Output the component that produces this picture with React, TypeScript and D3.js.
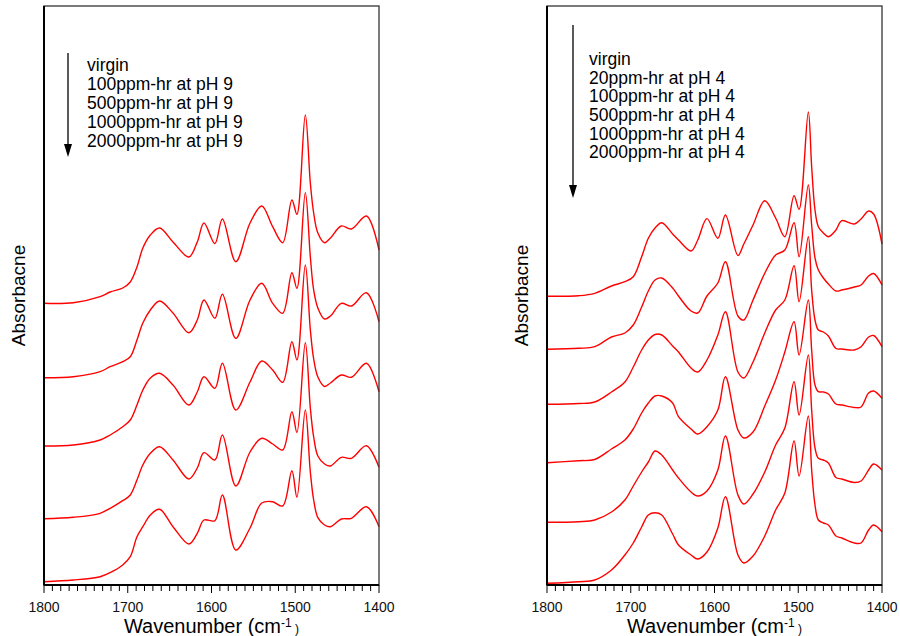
import React from "react";
import * as d3 from "d3";

// wavenumber grid (cm-1) the spectra were read at
const ph9Wavenumbers = [
  1800, 1765, 1733, 1721, 1706, 1697, 1689, 1682, 1673, 1662, 1646, 1627, 1617,
  1609, 1596, 1587, 1571, 1554, 1540, 1527, 1515, 1504, 1498, 1488, 1482, 1478,
  1473, 1465, 1458, 1445, 1433, 1415, 1400,
];

// absorbance (stacked, a.u.)
const ph9Virgin = [
  2.817, 2.823, 2.883, 2.93, 2.97, 3.03, 3.18, 3.37, 3.5, 3.57, 3.43, 3.28, 3.43,
  3.62, 3.415, 3.66, 3.233, 3.62, 3.79, 3.583, 3.423, 3.85, 3.707, 4.7, 4.02, 3.72,
  3.52, 3.423, 3.47, 3.59, 3.56, 3.69, 3.35,
];
const ph9_100 = [
  2.073, 2.083, 2.133, 2.183, 2.233, 2.283, 2.45, 2.62, 2.75, 2.84, 2.72, 2.523,
  2.65, 2.85, 2.667, 2.907, 2.467, 2.85, 3.017, 2.817, 2.717, 3.123, 2.967, 3.923,
  3.283, 2.95, 2.77, 2.66, 2.69, 2.817, 2.79, 2.923, 2.633,
];
const ph9_500 = [
  1.39, 1.4, 1.45, 1.5, 1.583, 1.65, 1.8, 1.95, 2.07, 2.117, 2.0, 1.8, 1.93, 2.083,
  1.967, 2.217, 1.75, 2.03, 2.24, 2.15, 2.027, 2.433, 2.25, 3.2, 2.553, 2.26, 2.08,
  1.985, 2.02, 2.1, 2.077, 2.217, 1.933,
];
const ph9_1000 = [
  0.663, 0.677, 0.717, 0.767, 0.843, 0.9, 1.05, 1.2, 1.317, 1.383, 1.25, 1.06,
  1.17, 1.323, 1.25, 1.5, 0.99, 1.33, 1.467, 1.41, 1.35, 1.733, 1.525, 2.423, 1.77,
  1.48, 1.29, 1.21, 1.19, 1.277, 1.267, 1.393, 1.177,
];
const ph9_2000 = [
  0.033, 0.05, 0.083, 0.123, 0.2, 0.283, 0.483, 0.583, 0.7, 0.757, 0.583, 0.41,
  0.517, 0.65, 0.643, 0.9, 0.35, 0.57, 0.82, 0.833, 0.79, 1.143, 0.877, 1.75, 1.13,
  0.85, 0.674, 0.6, 0.583, 0.66, 0.667, 0.783, 0.583,
];
const ph9Labels = [
  "virgin",
  "100ppm-hr at pH 9",
  "500ppm-hr at pH 9",
  "1000ppm-hr at pH 9",
  "2000ppm-hr at pH 9",
];

const ph4Wavenumbers = [
  1800, 1762, 1743, 1723, 1707, 1697, 1687, 1679, 1671, 1663, 1650, 1643, 1628,
  1620, 1609, 1596, 1587, 1572, 1565, 1554, 1540, 1527, 1516, 1505, 1499, 1488,
  1484, 1480, 1476, 1470, 1464, 1455, 1448, 1433, 1425, 1416, 1410, 1400,
];
const ph4Virgin = [
  2.887, 2.893, 2.917, 2.99, 3.033, 3.083, 3.283, 3.467, 3.57, 3.623, 3.51, 3.45,
  3.34, 3.45, 3.664, 3.467, 3.7, 3.295, 3.41, 3.6, 3.842, 3.67, 3.483, 3.892, 3.757,
  4.73, 4.183, 3.75, 3.583, 3.52, 3.483, 3.55, 3.643, 3.61, 3.66, 3.74, 3.71, 3.41,
];
const ph4_20 = [
  2.357, 2.367, 2.383, 2.48, 2.52, 2.6, 2.78, 2.94, 3.05, 3.07, 2.97, 2.89, 2.74,
  2.72, 2.89, 3.02, 3.233, 2.69, 2.65, 2.85, 3.117, 3.3, 3.35, 3.623, 3.283, 4.0,
  3.6, 3.27, 3.15, 3.07, 3.01, 2.94, 2.95, 2.98, 3.0, 3.09, 3.115, 3.0,
];
const ph4_100 = [
  1.807, 1.815, 1.83, 1.93, 2.03, 2.18, 2.35, 2.45, 2.505, 2.5, 2.39, 2.33, 2.17,
  2.13, 2.25, 2.5, 2.733, 2.13, 2.07, 2.23, 2.52, 2.75, 2.85, 3.193, 2.833, 3.483,
  2.95, 2.65, 2.55, 2.53, 2.49, 2.365, 2.36, 2.35, 2.383, 2.48, 2.495, 2.383,
];
const ph4_500 = [
  1.223, 1.243, 1.255, 1.36, 1.45, 1.56, 1.72, 1.82, 1.89, 1.89, 1.82, 1.683, 1.56,
  1.51, 1.583, 1.75, 2.083, 1.55, 1.47, 1.53, 1.79, 2.05, 2.33, 2.633, 2.3, 2.85,
  2.35, 2.0, 1.933, 1.93, 1.91, 1.81, 1.8, 1.775, 1.78, 1.92, 1.94, 1.867,
];
const ph4_1000 = [
  0.627, 0.633, 0.65, 0.73, 0.85, 0.99, 1.13, 1.23, 1.34, 1.3, 1.15, 1.07, 0.93,
  0.89, 0.94, 1.15, 1.49, 0.9, 0.81, 0.91, 1.13, 1.4, 1.57, 2.033, 1.7, 2.3, 1.75,
  1.37, 1.267, 1.25, 1.22, 1.075, 1.06, 1.025, 1.04, 1.15, 1.21, 1.15,
];
const ph4_2000 = [
  0.017, 0.033, 0.05, 0.15, 0.3, 0.42, 0.58, 0.7, 0.723, 0.7, 0.51, 0.4, 0.3, 0.26,
  0.33, 0.57, 0.883, 0.3, 0.22, 0.29, 0.49, 0.75, 0.92, 1.44, 1.09, 1.69, 1.15, 0.8,
  0.65, 0.62, 0.6, 0.49, 0.47, 0.42, 0.42, 0.55, 0.6, 0.533,
];
const ph4Labels = [
  "virgin",
  "20ppm-hr at pH 4",
  "100ppm-hr at pH 4",
  "500ppm-hr at pH 4",
  "1000ppm-hr at pH 4",
  "2000ppm-hr at pH 4",
];

const xTicks = [1800, 1700, 1600, 1500, 1400];
const yDomain = [0, 5.79];

const FONT = "'Liberation Sans', Arial, Helvetica, sans-serif";
const TOP = 6;
const BOTTOM = 585;

const panels = [
  {
    left: 44, right: 379, wn: ph9Wavenumbers,
    series: [ph9Virgin, ph9_100, ph9_500, ph9_1000, ph9_2000], labels: ph9Labels,
    legendX: 87, legendY: 71, legendStep: 19, arrowX: 68, arrowTop: 53, arrowTip: 157, titleX: 25,
  },
  {
    left: 547, right: 882, wn: ph4Wavenumbers,
    series: [ph4Virgin, ph4_20, ph4_100, ph4_500, ph4_1000, ph4_2000], labels: ph4Labels,
    legendX: 589, legendY: 65, legendStep: 18.65, arrowX: 573, arrowTop: 25, arrowTip: 198, titleX: 528,
  },
];

function Panel({ cfg }: { cfg: any }) {
  const x = d3.scaleLinear().domain([1800, 1400]).range([cfg.left, cfg.right]);
  const y = d3.scaleLinear().domain(yDomain).range([BOTTOM, TOP]);
  const line = d3
    .line<number>()
    .x((d, i) => x(cfg.wn[i]))
    .y((d) => y(d))
    .curve(d3.curveCatmullRom.alpha(0.5));
  const minor = d3.range(1400, 1801, 10);
  const mid = (cfg.left + cfg.right) / 2;

  return (
    <g>
      {cfg.series.map((s: number[], i: number) => (
        <path key={i} d={line(s) || ""} fill="none" stroke="#ff0000" strokeWidth={1.4} />
      ))}
      <rect x={cfg.left} y={TOP} width={cfg.right - cfg.left} height={BOTTOM - TOP}
        fill="none" stroke="#333" strokeWidth={1.3} />
      <line x1={cfg.left} x2={cfg.left} y1={TOP} y2={BOTTOM} stroke="#000" strokeWidth={2} />
      <line x1={cfg.left} x2={cfg.right} y1={BOTTOM} y2={BOTTOM} stroke="#000" strokeWidth={2} />
      {minor.map((t) => (
        <line key={t} x1={x(t)} x2={x(t)} y1={BOTTOM} y2={BOTTOM + (t % 100 === 0 ? 8 : 6)}
          stroke="#000" strokeWidth={1} />
      ))}
      {xTicks.map((t) => (
        <text key={t} x={x(t)} y={612} textAnchor="middle" fontSize={14} fill="#111">
          {t}
        </text>
      ))}
      <text x={mid} y={633} textAnchor="middle" fontSize={20} fill="#000">
        Wavenumber (cm
        <tspan fontSize={12} dy={-6}>-1</tspan>
        <tspan fontSize={12} dy={6}> )</tspan>
      </text>
      <text transform={`translate(${cfg.titleX},${(TOP + BOTTOM) / 2}) rotate(-90)`}
        textAnchor="middle" fontSize={19} fill="#000">
        Absorbacne
      </text>
      <line x1={cfg.arrowX} x2={cfg.arrowX} y1={cfg.arrowTop} y2={cfg.arrowTip - 10}
        stroke="#000" strokeWidth={1.3} />
      <path d={`M${cfg.arrowX - 4},${cfg.arrowTip - 13} L${cfg.arrowX + 4},${cfg.arrowTip - 13} L${cfg.arrowX},${cfg.arrowTip} Z`}
        fill="#000" />
      {cfg.labels.map((l: string, i: number) => (
        <text key={l} x={cfg.legendX} y={cfg.legendY + i * cfg.legendStep} fontSize={17.5} fill="#000">
          {l}
        </text>
      ))}
    </g>
  );
}

export default function App() {
  return (
    <svg width={900} height={636} style={{ position: "absolute", left: 0, top: 0, background: "#fff" }}
      fontFamily={FONT}>
      <rect width={900} height={636} fill="#fff" />
      {panels.map((p, i) => (
        <Panel key={i} cfg={p} />
      ))}
    </svg>
  );
}
